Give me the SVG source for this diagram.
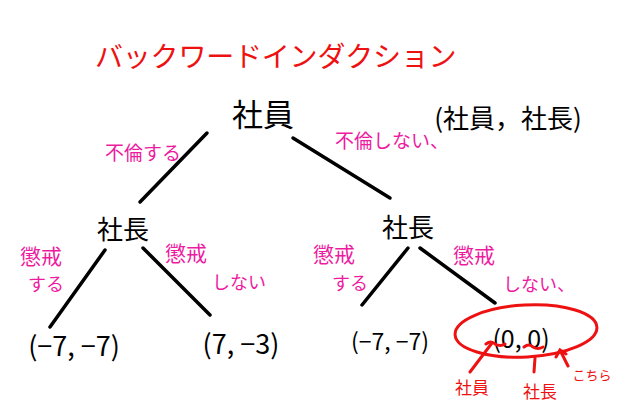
<svg xmlns="http://www.w3.org/2000/svg" width="620" height="420" viewBox="0 0 620 420">
<style>
text{font-family:"Noto Sans CJK JP","Liberation Sans",sans-serif}
.blk{fill:#000}
.mag{fill:#ee1aa0}
.red{fill:#ee1111}
.edge{stroke:#000;stroke-width:3.5;stroke-linecap:round;fill:none}
.rl{stroke:#ee1111;stroke-width:3;stroke-linecap:round;fill:none}
</style>
<rect width="620" height="420" fill="#fff"/>
<text class="red" x="95" y="67" font-size="28" letter-spacing="-0.2">バックワードインダクション</text>
<g id="root"><text class="blk" x="263" y="126" font-size="31" text-anchor="middle">社員</text></g>
<g id="legend"><text class="blk" x="508" y="128" font-size="26" text-anchor="middle">(社員，社長)</text></g>
<g id="n-left"><text class="blk" x="123" y="239" font-size="26" text-anchor="middle">社長</text></g>
<g id="n-right"><text class="blk" x="408" y="237" font-size="26" text-anchor="middle">社長</text></g>
<g id="leaf1"><text class="blk" x="74" y="356" font-size="27" text-anchor="middle">(−7, −7)</text></g>
<g id="leaf2"><text class="blk" x="241" y="354" font-size="27" text-anchor="middle">(7, −3)</text></g>
<g id="leaf3"><text class="blk" x="390" y="350" font-size="23" text-anchor="middle">(−7, −7)</text></g>
<g id="leaf4">
<text class="blk" x="521" y="348" font-size="25" text-anchor="middle">(0, 0)</text>
<ellipse cx="526" cy="331" rx="71" ry="26" class="rl" transform="rotate(-3 526 331)"/>
<path class="rl" d="M486 344 q5-4 9 0 q5 3 10 0 M524 347 q5-4 9 0 q5 3 10 0"/>
<path class="rl" d="M470 372 L492 343 M535 358 L534 372 M568 366 L560 350 M556 357 L560 350 L566 354"/>
<text class="red" x="472" y="394" font-size="17" text-anchor="middle">社員</text>
<text class="red" x="540" y="398" font-size="17" text-anchor="middle">社長</text>
<text class="red" x="592" y="380" font-size="13" text-anchor="middle">こちら</text>
</g>
<g id="connectors">
<line class="edge" x1="207" y1="133" x2="140" y2="202"/>
<line class="edge" x1="293" y1="138" x2="390" y2="198"/>
<line class="edge" x1="105" y1="250" x2="50" y2="327"/>
<line class="edge" x1="143" y1="248" x2="210" y2="315"/>
<line class="edge" x1="408" y1="248" x2="362" y2="305"/>
<line class="edge" x1="420" y1="248" x2="495" y2="303"/>
</g>
<g id="labels" font-size="18">
<text class="mag" x="105" y="160" font-size="19">不倫する</text>
<text class="mag" x="335" y="148" font-size="19">不倫しない、</text>
<text class="mag" x="20" y="264" font-size="21">懲戒</text>
<text class="mag" x="28" y="291">する</text>
<text class="mag" x="165" y="261" font-size="21">懲戒</text>
<text class="mag" x="212" y="289">しない</text>
<text class="mag" x="313" y="262" font-size="21">懲戒</text>
<text class="mag" x="332" y="290">する</text>
<text class="mag" x="453" y="263" font-size="21">懲戒</text>
<text class="mag" x="503" y="291">しない、</text>
</g>
</svg>
